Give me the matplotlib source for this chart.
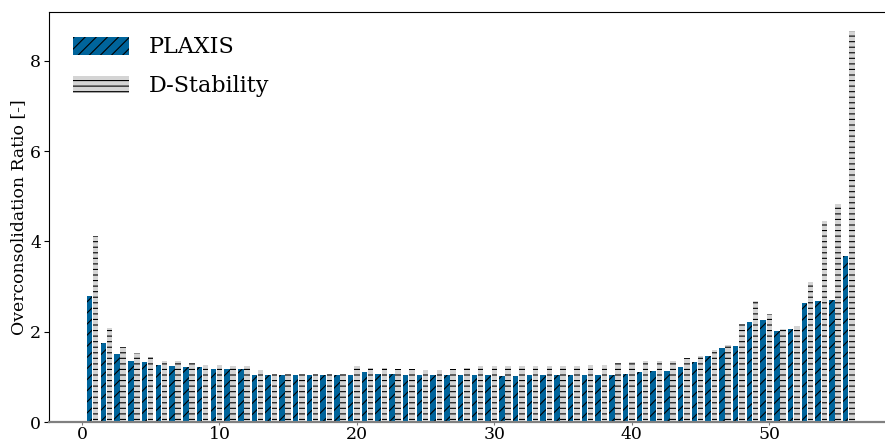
import numpy as np
import matplotlib
matplotlib.use("Agg")
import matplotlib.pyplot as plt

plt.rcParams['font.family'] = ['DejaVu Serif']
plt.rcParams['hatch.linewidth'] = 0.8

# Overconsolidation ratio per element, PLAXIS vs D-Stability
element = list(range(1, 57))
ocr_plaxis = [
    2.80, 1.74, 1.50, 1.36, 1.32, 1.27, 1.23, 1.21, 1.21, 1.18,
    1.18, 1.18, 1.05, 1.05, 1.05, 1.05, 1.05, 1.05, 1.05, 1.05,
    1.10, 1.07, 1.07, 1.05, 1.05, 1.03, 1.05, 1.05, 1.05, 1.05,
    1.01, 1.01, 1.03, 1.03, 1.03, 1.03, 1.05, 1.05, 1.05, 1.07,
    1.10, 1.14, 1.14, 1.22, 1.33, 1.46, 1.64, 1.69, 2.21, 2.25,
    2.01, 2.07, 2.63, 2.67, 2.71, 3.67,
]
ocr_dstability = [
    4.13, 2.08, 1.67, 1.52, 1.44, 1.36, 1.34, 1.30, 1.27, 1.27,
    1.25, 1.25, 1.16, 1.07, 1.07, 1.07, 1.07, 1.07, 1.07, 1.23,
    1.20, 1.20, 1.18, 1.18, 1.16, 1.16, 1.18, 1.20, 1.23, 1.23,
    1.23, 1.23, 1.23, 1.25, 1.25, 1.25, 1.27, 1.27, 1.30, 1.32,
    1.36, 1.36, 1.36, 1.41, 1.47, 1.59, 1.70, 2.18, 2.68, 2.40,
    2.07, 2.12, 3.09, 4.46, 4.82, 8.65,
]

x = np.array(element, dtype=float)
width = 0.4

fig = plt.figure(figsize=(8.85, 4.44), dpi=100)
ax = fig.add_axes([49 / 885, 22 / 444, 844 / 885, 410 / 444])

ax.bar(x - 0.45, ocr_plaxis, width=width, color='#00649b',
       edgecolor='black', linewidth=0, hatch='///', label='PLAXIS')
ax.bar(x, ocr_dstability, width=width, color='#d4d4d4',
       edgecolor='black', linewidth=0, hatch='---', label='D-Stability')

ax.set_xlim(-2.4, 59.0)
ax.set_ylim(0, 9.08)
ax.set_xticks([0, 10, 20, 30, 40, 50])
ax.set_yticks([0, 2, 4, 6, 8])
ax.set_ylabel('Overconsolidation Ratio [-]', fontsize=12.4)
ax.yaxis.set_label_coords(-0.026, 0.5)

ax.tick_params(axis='both', labelsize=12.4, pad=2, length=3.5)
ax.tick_params(axis='x', color='gray', pad=0.5, length=2.5)
ax.spines['bottom'].set_color('gray')
ax.spines['bottom'].set_linewidth(1.6)
ax.spines['right'].set_visible(False)

ax.legend(loc='upper left', frameon=False, fontsize=16,
          handlelength=2.5, handleheight=0.85, handletextpad=0.9,
          labelspacing=0.75, borderaxespad=0.7)

fig.savefig('out.png', dpi=100)
